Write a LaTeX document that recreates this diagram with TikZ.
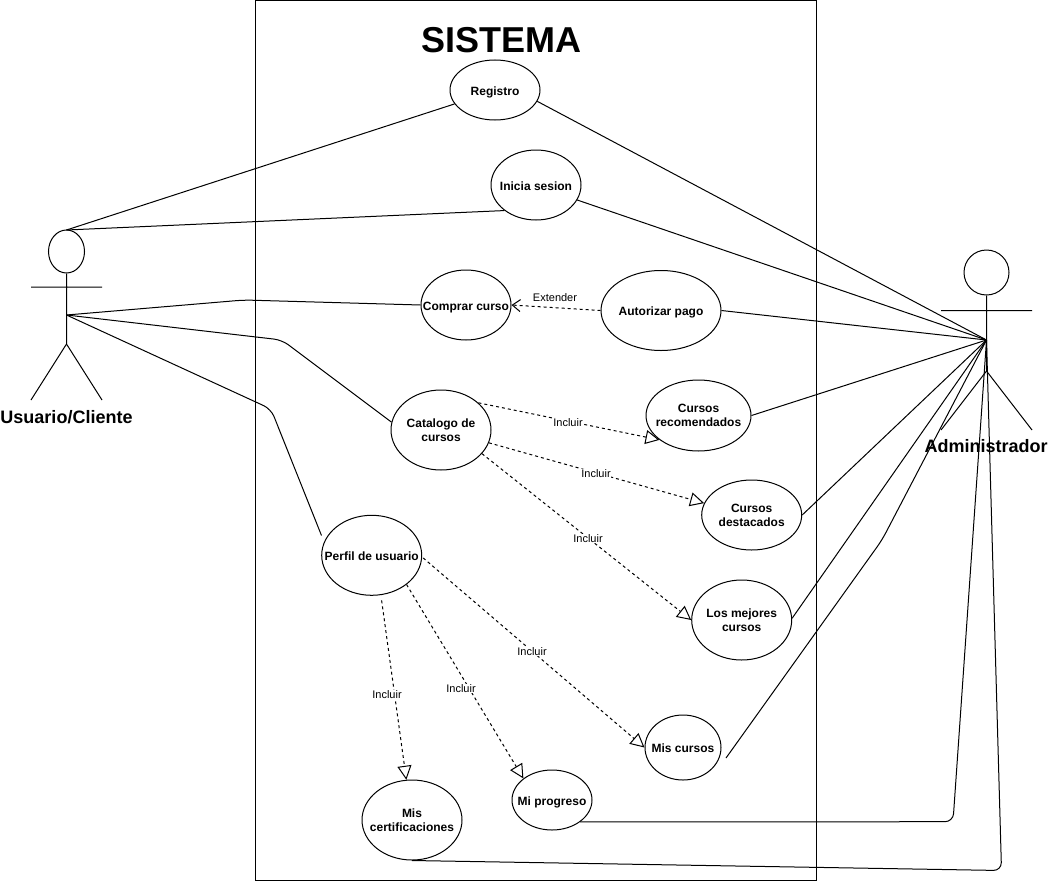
\documentclass[tikz,border=0pt]{standalone}
\usepackage{fontspec}
\setmainfont{Liberation Sans}
\usetikzlibrary{shapes.geometric,arrows.meta}
\tikzset{
  x=0.75pt,y=-0.75pt,
  every path/.style={line width=0.75pt},
  uc/.style 2 args={ellipse,draw,fill=white,inner sep=-16pt,align=center,minimum width=#1*0.75pt,minimum height=#2*0.75pt,font=\fontsize{9pt}{10.5pt}\selectfont\bfseries,execute at begin node={\rule{0pt}{9.8pt}},text depth=2pt},
  two/.style={text depth=-0.6pt},
  link/.style={draw,rounded corners=6pt},
  incl/.style={draw,dashed,dash pattern=on 2.25pt off 2.25pt,-{Triangle[open,length=10.5pt,width=10.5pt,fill=white]}},
  extd/.style={draw,dashed,dash pattern=on 2.25pt off 2.25pt,-{Straight Barb[length=6pt,width=9pt]}},
  lbl/.style={fill=white,inner sep=0.5pt,font=\fontsize{8.25pt}{9.5pt}\selectfont},
  actorname/.style={font=\fontsize{13.5pt}{16pt}\selectfont\bfseries}
}
\begin{document}
\begin{tikzpicture}
\useasboundingbox (0,0) rectangle (1048,881);
\node[draw,minimum width=561*0.75pt,minimum height=880*0.75pt,inner sep=0pt,anchor=north west] (sys) at (254.7,0) {};
\node[font=\fontsize{27pt}{32pt}\selectfont\bfseries] (title) at (501,40.5) {SISTEMA};
% user actor
\node[ellipse,draw,inner sep=0pt,minimum width=36*0.75pt,minimum height=43*0.75pt] (uhead) at (66.5,251.5) {};
\coordinate (uarmL) at (31,287); \coordinate (uarmR) at (102,287);
\coordinate (uhip) at (66.5,344); \coordinate (ulegL) at (31,400); \coordinate (ulegR) at (102,400);
\coordinate (utop) at (66.5,230); \coordinate (uwaist) at (66.5,315);
\draw (uhead.south) -- (uhip) (uarmL) -- (uarmR) (uhip) -- (ulegL) (uhip) -- (ulegR);
\node[actorname] (uname) at (66.5,417) {Usuario/Cliente};
% admin actor
\node[ellipse,draw,inner sep=0pt,minimum width=45*0.75pt,minimum height=45*0.75pt] (ahead) at (986.5,272.5) {};
\coordinate (aarmL) at (941,310.5); \coordinate (aarmR) at (1032,310.5);
\coordinate (ahip) at (986.5,371); \coordinate (alegL) at (941,430); \coordinate (alegR) at (1032,430);
\coordinate (awaist) at (986.5,340);
\draw (ahead.south) -- (ahip) (aarmL) -- (aarmR) (ahip) -- (alegL) (ahip) -- (alegR);
% use cases
\node[uc={90}{60}] (reg) at (495,90) {Registro};
\node[uc={90}{70}] (ini) at (536,185) {Inicia sesion};
\node[uc={90}{70}] (com) at (466,305) {Comprar curso};
\node[uc={120}{80}] (aut) at (661,310.5) {Autorizar pago};
\node[uc={100}{80},two] (cat) at (441,430) {Catalogo de\\cursos};
\node[uc={105}{71},two] (rec) at (698.5,415.5) {Cursos\\recomendados};
\node[uc={100}{70},two] (des) at (751.7,515) {Cursos\\destacados};
\node[uc={100}{80},two] (mej) at (741.7,620) {Los mejores\\cursos};
\node[uc={100}{80}] (per) at (371.7,555.3) {Perfil de usuario};
\node[uc={76}{65}] (mcu) at (683,747.5) {Mis cursos};
\node[uc={80}{60}] (mpr) at (552,800) {Mi progreso};
\node[uc={100}{80},two] (mce) at (412,820) {Mis\\certificaciones};
\coordinate (w1) at (244,300);
\coordinate (w2) at (282,340);
\coordinate (w3) at (271,409);
\coordinate (w4) at (882,540);
\coordinate (w5) at (953,821.7);
\coordinate (w6) at (1001.5,870.5);
\coordinate (perE) at (321.5,535.5);
\coordinate (mcuE) at (726,758);
% links
\draw[link] (utop) -- (reg.199);
\draw[link] (utop) -- (ini.219);
\draw[link] (uwaist) -- (w1) -- (com.180);
\draw[link] (uwaist) -- (w2) -- (cat.171);
\draw[link] (uwaist) -- (w3) -- (perE);
\draw[link] (reg.-15) -- (awaist);
\draw[link] (ini.-20) -- (awaist);
\draw[link] (aut.0) -- (awaist);
\draw[link] (rec.0) -- (awaist);
\draw[link] (des.0) -- (awaist);
\draw[link] (mej.2) -- (awaist);
\draw[link] (mcuE) -- (w4) -- (awaist);
\draw[link] (mpr.-38) -- (w5) -- (awaist);
\draw[link] (mce.270) -- (w6) -- (awaist);
% dashed
\draw[extd] (aut.180) -- (com.0);
\draw[incl] (cat.36) -- (rec.212);
\draw[incl] (cat.-15) -- (des.166);
\draw[incl] (cat.-30) -- (mej.180);
\draw[incl,shorten <=1pt] (per.-2) -- (mcu.180);
\draw[incl] (per.-40) -- (mpr.143);
\draw[incl,shorten <=4pt] (per.-77) -- (mce.98);
\node[lbl,inner sep=0pt,fill=none] (lx) at (555,297.5) {Extender};
\node[lbl] (l1) at (568,422.5) {Incluir};
\node[lbl] (l2) at (596,473.5) {Incluir};
\node[lbl] (l3) at (588,538.5) {Incluir};
\node[lbl] (l4) at (532,651.5) {Incluir};
\node[lbl] (l5) at (461,688.5) {Incluir};
\node[lbl] (l6) at (387,694.5) {Incluir};
\node[actorname] (aname) at (986,446.5) {Administrador};
\end{tikzpicture}
\end{document}
